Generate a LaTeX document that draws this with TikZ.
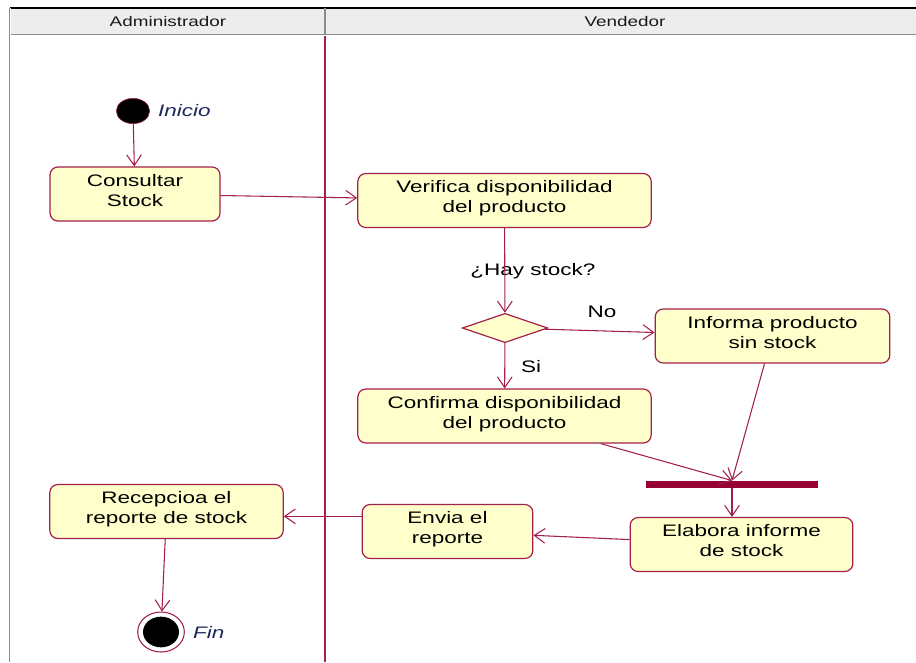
\documentclass[tikz,border=0pt]{standalone}
\usepackage{fontspec}
\setmainfont{Liberation Sans}
\newfontfamily\umlfont[FakeStretch=1.35]{Liberation Sans}
\definecolor{umlred}{RGB}{163,32,74}
\definecolor{umlfill}{RGB}{255,255,204}
\definecolor{umlbar}{RGB}{150,0,52}
\definecolor{umlnote}{RGB}{30,40,90}
\usetikzlibrary{
  shapes.geometric,
  arrows.meta,
  positioning
}

\begin{document}
\begin{tikzpicture}[x=0.75pt, y=-0.75pt,
  act/.style={rectangle, draw=umlred, fill=umlfill, line width=0.9pt, rounded corners=6pt, minimum width=#1, minimum height=40.5pt, inner sep=2pt, text depth=6pt, align=center, font=\umlfont\fontsize{12.5}{15}\selectfont},
  flow/.style={-{Straight Barb[length=8pt, width=11pt]}, umlred, line width=0.8pt},
  lbl/.style={font=\umlfont\fontsize{12.5}{15}\selectfont},
  note/.style={font=\umlfont\itshape\fontsize{12.5}{15}\selectfont, text=umlnote, inner sep=0pt},
  lane/.style={font=\umlfont\fontsize{10.5}{12}\selectfont, text=black!90}
]
  \useasboundingbox (0,0) rectangle (916,662);

  \fill[black!7] (10,8) rectangle (916,35);
  \draw[black, line width=1.2pt] (10,8) -- (916,8);
  \draw[black!45, double, line width=0.6pt] (10,35) -- (916,35);
  \draw[black!45, double, line width=0.6pt] (10,8) -- (10,662);
  \draw[black!45, line width=0.8pt] (325,8) -- (325,35);
  \draw[umlred, line width=0.8pt] (325,36) -- (325,662);
  \node[lane] (admin) at (168,21) {Administrador};
  \node[lane] (vendedor) at (625,21) {Vendedor};

  \node[ellipse, fill=black, draw=umlred, minimum width=25pt, minimum height=19pt, inner sep=0pt] (start) at (133,111) {};
  \node[note, anchor=west, right=6pt of start] (inicio) {Inicio};

  \node[act=127.5pt] (consultar) at (135,194) {Consultar\\Stock};
  \node[act=220pt] (verifica) at (504.5,200.5) {Verifica disponibilidad\\del producto};
  \node[lbl] (hay) at (533,271) {¿Hay stock?};
  \node[diamond, draw=umlred, fill=umlfill, line width=0.9pt, aspect=2.9, minimum width=64pt, minimum height=22pt, inner sep=0pt] (decision) at (505,328) {};
  \node[lbl] (no) at (602,312) {No};
  \node[lbl] (si) at (531,367) {Si};
  \node[act=176pt] (informa) at (772.5,336) {Informa producto\\sin stock};
  \node[act=220pt] (confirma) at (504.5,416) {Confirma disponibilidad\\del producto};
  \node[rectangle, fill=umlbar, minimum width=129pt, minimum height=5.5pt, inner sep=0pt] (bar) at (732,484.5) {};
  \node[act=167pt] (elabora) at (741.5,544.5) {Elabora informe\\de stock};
  \node[act=128pt] (envia) at (447.5,531.5) {Envia el\\reporte};
  \node[act=175pt] (recepcioa) at (166.5,511.5) {Recepcioa el\\reporte de stock};

  \node[ellipse, draw=umlred, fill=white, line width=0.8pt, minimum width=35pt, minimum height=30pt, inner sep=0pt] (fin) at (161,632) {};
  \node[ellipse, fill=black, minimum width=27pt, minimum height=23pt, inner sep=0pt] (finin) at (fin) {};
  \node[note, anchor=west, right=6pt of fin] (finlbl) {Fin};

  \draw[flow] (start) -- (consultar);
  \draw[flow] (consultar) -- (verifica);
  \draw[flow] (verifica) -- (decision);
  \draw[flow] (decision) -- (informa);
  \draw[flow] (decision) -- (confirma);
  \draw[flow] (confirma.-16) -- (bar.north);
  \draw[flow] ([xshift=-6pt]informa.south) -- (bar.north);
  \draw[flow] (bar.south) -- (bar.south |- elabora.north);
  \draw[flow] (elabora) -- (envia);
  \draw[flow] (envia.170) -- (recepcioa.east |- envia.170);
  \draw[flow] (recepcioa) -- (fin);
\end{tikzpicture}
\end{document}
